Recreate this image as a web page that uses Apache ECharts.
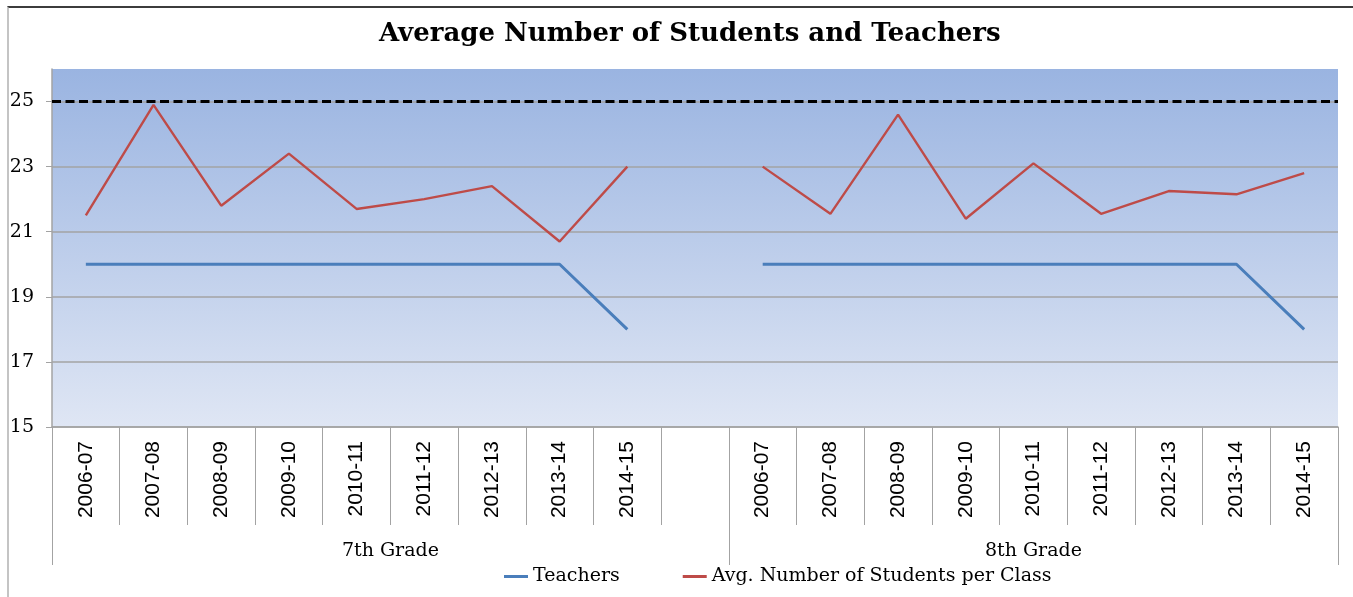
<!DOCTYPE html>
<html>
<head>
<meta charset="utf-8">
<title>Average Number of Students and Teachers</title>
<script src="https://cdn.jsdelivr.net/npm/echarts@6/dist/echarts.min.js"></script>
<style>
  html, body { margin: 0; padding: 0; background: #fff; }
  #wrap { position: relative; width: 1353px; height: 597px; overflow: hidden; }
  #chart { position: absolute; left: 0; top: 0; width: 1353px; height: 597px; }
  /* outer chart frame */
  #frame { position: absolute; left: 7px; top: 6px; width: 1360px; height: 620px;
           border-top: 2px solid #3c3c3c; border-left: 2px solid #c4c4c4; pointer-events: none; }
</style>
</head>
<body>
<div id="wrap">
  <div id="chart"></div>
  <div id="frame"></div>
</div>
<script>
// School years, repeated for each grade with an empty slot between the two groups
const years = ['2006-07', '2007-08', '2008-09', '2009-10', '2010-11', '2011-12', '2012-13', '2013-14', '2014-15'];
const grades = ['7th Grade', '8th Grade'];

// Teachers per year
const teachers7 = [20, 20, 20, 20, 20, 20, 20, 20, 18];
const teachers8 = [20, 20, 20, 20, 20, 20, 20, 20, 18];

// Average number of students per class
const students7 = [21.5, 24.9, 21.8, 23.4, 21.7, 22.0, 22.4, 20.7, 23.0];
const students8 = [23.0, 21.55, 24.6, 21.4, 23.1, 21.55, 22.25, 22.15, 22.8];

// Class-size limit drawn as the dashed reference line
const classLimit = 25;

// Value-axis ticks
const yTicks = [15, 17, 19, 21, 23, 25];
const yMin = 15, yMax = 26;

// Category axis: 7th grade years, a gap, then 8th grade years
const categories = years.concat([''], years);
const teachers = teachers7.concat([null], teachers8);
const students = students7.concat([null], students8);

// Group boundaries on the category index scale, and label centres
const groupEdges = [0, years.length + 1, categories.length];
const groupCentres = [0, 1].map(i => (groupEdges[i] + groupEdges[i + 1]) / 2);

const serif = '"DejaVu Serif", Georgia, serif';
const sans = '"Liberation Sans", Arial, sans-serif';
const gridColor = '#a3a3a3';

const chart = echarts.init(document.getElementById('chart'), null, { renderer: 'canvas' });

chart.setOption({
  animation: false,
  title: {
    text: 'Average Number of Students and Teachers',
    left: 374,
    top: 16,
    textStyle: { fontFamily: serif, fontWeight: 'bold', fontSize: 26, color: '#000' }
  },
  legend: {
    left: 499,
    top: 562,
    itemGap: 63,
    itemWidth: 24,
    itemHeight: 3,
    textStyle: { fontFamily: serif, fontSize: 19, color: '#000' },
    data: [
      { name: 'Teachers', icon: 'rect' },
      { name: 'Avg. Number of Students per Class', icon: 'rect' }
    ]
  },
  grid: {
    left: 52,
    right: 15,
    top: 69,
    bottom: 170,
    show: true,
    borderWidth: 0,
    backgroundColor: new echarts.graphic.LinearGradient(0, 0, 0, 1, [
      { offset: 0, color: '#9ab4e1' },
      { offset: 1, color: '#dfe6f4' }
    ])
  },
  xAxis: [
    {
      type: 'category',
      data: categories,
      position: 'bottom',
      boundaryGap: true,
      axisLine: { show: true, lineStyle: { color: gridColor, width: 1.5 } },
      axisTick: { show: true, interval: 0, length: 98, lineStyle: { color: gridColor, width: 1 } },
      axisLabel: {
        interval: 0,
        rotate: 90,
        margin: 14,
        fontFamily: sans,
        fontSize: 21,
        color: '#000'
      },
      splitLine: { show: false }
    },
    {
      type: 'value',
      position: 'bottom',
      min: 0,
      max: categories.length,
      axisLine: { show: false },
      axisTick: { show: true, customValues: groupEdges, length: 138, lineStyle: { color: gridColor, width: 1 } },
      axisLabel: {
        customValues: groupCentres,
        margin: 115,
        fontFamily: serif,
        fontSize: 19,
        color: '#000',
        formatter: v => grades[v < groupEdges[1] ? 0 : 1]
      },
      splitLine: { show: false }
    }
  ],
  yAxis: {
    type: 'value',
    min: yMin,
    max: yMax,
    interval: 1,
    axisLine: { show: true, lineStyle: { color: gridColor, width: 1.5 } },
    axisTick: { show: true, customValues: yTicks, length: 6, lineStyle: { color: gridColor } },
    axisLabel: { customValues: yTicks, margin: 18, fontFamily: serif, fontSize: 19, color: '#000' },
    splitLine: { show: true, lineStyle: { color: gridColor, width: 1.5 } }
  },
  series: [
    {
      name: 'Teachers',
      type: 'line',
      data: teachers,
      xAxisIndex: 0,
      symbol: 'none',
      connectNulls: false,
      color: '#4a7ebb',
      lineStyle: { color: '#4a7ebb', width: 3 },
      z: 3
    },
    {
      name: 'Avg. Number of Students per Class',
      type: 'line',
      data: students,
      xAxisIndex: 0,
      symbol: 'none',
      connectNulls: false,
      color: '#be4b48',
      lineStyle: { color: '#be4b48', width: 2.4 },
      z: 3,
      markLine: {
        silent: true,
        symbol: 'none',
        label: { show: false },
        lineStyle: { color: '#000', type: [9, 4.5], width: 3 },
        data: [{ yAxis: classLimit }]
      }
    }
  ]
});
</script>
</body>
</html>
